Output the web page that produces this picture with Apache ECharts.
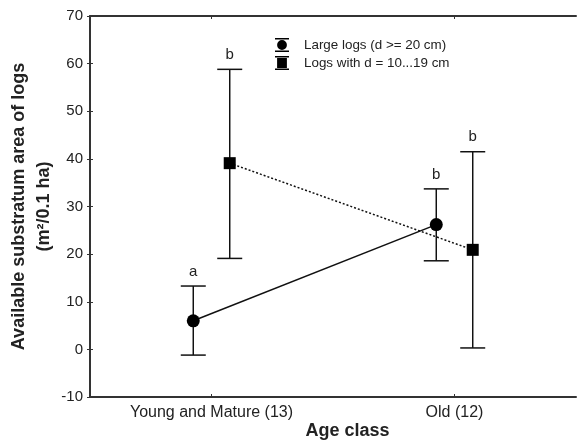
<!DOCTYPE html>
<html><head><meta charset="utf-8">
<script src="https://cdn.jsdelivr.net/npm/echarts@6/dist/echarts.min.js"></script>
<style>html,body{margin:0;padding:0;background:#fff}#c{width:577px;height:441px}</style>
</head><body><div id="c"></div>
<script>
const categories = ['Young and Mature (13)', 'Old (12)'];
const seriesNames = ['Large logs (d >= 20 cm)', 'Logs with d = 10...19 cm'];
const largeMean = [6.0, 26.2];
const largeLow = [-1.2, 18.6];
const largeHigh = [13.3, 33.7];
const largeLetters = ['a', 'b'];
const smallMean = [39.1, 20.9];
const smallLow = [19.1, 0.3];
const smallHigh = [58.8, 41.5];
const smallLetters = ['b', 'b'];
const yTicks = [-10, 0, 10, 20, 30, 40, 50, 60, 70];

const FONT = 'Liberation Sans, Arial, sans-serif';
const dodge = 0.075;
function xPos(i, s) { return i + 0.5 + (s === 0 ? -dodge : dodge); }

const errData = [];
categories.forEach((c, i) => {
  errData.push([xPos(i, 0), largeLow[i], largeHigh[i], largeLetters[i]]);
  errData.push([xPos(i, 1), smallLow[i], smallHigh[i], smallLetters[i]]);
});

const circleIcon = 'path://M0,0H20V2H0Z M0,18H20V20H0Z M3,10A7,7 0 1,0 17,10A7,7 0 1,0 3,10Z';
const squareIcon = 'path://M0,0H20V2H0Z M0,18H20V20H0Z M3,3H17V17H3Z';

const chart = echarts.init(document.getElementById('c'));
chart.setOption({
  animation: false,
  textStyle: { fontFamily: FONT },
  grid: { left: 90, right: 1, top: 16, bottom: 44, containLabel: false, outerBoundsMode: 'none' },
  legend: {
    orient: 'vertical', left: 270, top: 33, itemWidth: 14, itemHeight: 14, itemGap: 4,
    textStyle: { fontFamily: FONT, fontSize: 13.4, color: '#222', padding: [0, 0, 0, 10] },
    data: [
      { name: seriesNames[0], icon: circleIcon },
      { name: seriesNames[1], icon: squareIcon }
    ]
  },
  xAxis: [
    { type: 'value', min: 0, max: 2, show: false },
    { type: 'category', data: categories, position: 'bottom', boundaryGap: true,
      axisLine: { onZero: false, lineStyle: { color: '#333', width: 2 } },
      axisTick: { show: true, inside: true, alignWithLabel: true, length: 3, lineStyle: { color: '#333' } },
      axisLabel: { fontSize: 16, color: '#222', margin: 8, fontFamily: FONT },
      name: 'Age class', nameLocation: 'middle', nameGap: 25, nameMoveOverlap: false,
      nameTextStyle: { fontSize: 18, fontWeight: 'bold', color: '#222', fontFamily: FONT, padding: [0, 0, 0, 29] } },
    { type: 'category', data: categories, position: 'top', boundaryGap: true,
      axisLine: { onZero: false, lineStyle: { color: '#333', width: 2 } },
      axisTick: { show: true, inside: true, alignWithLabel: true, length: 3, lineStyle: { color: '#333' } },
      axisLabel: { show: false } }
  ],
  yAxis: [
    { type: 'value', min: -10, max: 70, interval: 10,
      axisLine: { show: true, onZero: false, lineStyle: { color: '#333', width: 2 } },
      axisTick: { show: true, inside: true, length: 3, lineStyle: { color: '#333' } },
      axisLabel: { fontSize: 15, color: '#222', margin: 7, fontFamily: FONT,
        formatter: v => yTicks.includes(v) ? String(v) : '' },
      splitLine: { show: false },
      name: 'Available substratum area of logs\n(m²/0.1 ha)', nameLocation: 'middle', nameGap: 33, nameMoveOverlap: false,
      nameTextStyle: { fontSize: 18, fontWeight: 'bold', color: '#222', fontFamily: FONT, lineHeight: 25 } },
    { type: 'value', min: -10, max: 70, interval: 10, position: 'right',
      axisLine: { show: false },
      axisTick: { show: true, inside: true, length: 3, lineStyle: { color: '#333' } },
      axisLabel: { show: false }, splitLine: { show: false } }
  ],
  series: [
    {
      type: 'custom', name: 'err', xAxisIndex: 0, yAxisIndex: 0, z: 1,
      data: errData,
      renderItem: function (params, api) {
        const x = api.value(0);
        const lo = api.coord([x, api.value(1)]);
        const hi = api.coord([x, api.value(2)]);
        const hw = 12.5;
        const st = { stroke: '#111', lineWidth: 1.5 };
        return { type: 'group', children: [
          { type: 'line', shape: { x1: lo[0], y1: lo[1], x2: hi[0], y2: hi[1] }, style: st },
          { type: 'line', shape: { x1: lo[0] - hw, y1: lo[1], x2: lo[0] + hw, y2: lo[1] }, style: st },
          { type: 'line', shape: { x1: hi[0] - hw, y1: hi[1], x2: hi[0] + hw, y2: hi[1] }, style: st },
          { type: 'text', style: { x: hi[0], y: hi[1] - 7, text: api.value(3), fill: '#222',
            font: '15px ' + FONT, textAlign: 'center', textVerticalAlign: 'bottom' } }
        ]};
      }
    },
    {
      type: 'line', name: seriesNames[0], xAxisIndex: 0, yAxisIndex: 0, z: 3,
      data: largeMean.map((v, i) => [xPos(i, 0), v]),
      symbol: 'circle', symbolSize: 13, itemStyle: { color: '#000' },
      lineStyle: { color: '#111', width: 1.5, type: 'solid' }
    },
    {
      type: 'line', name: seriesNames[1], xAxisIndex: 0, yAxisIndex: 0, z: 3,
      data: smallMean.map((v, i) => [xPos(i, 1), v]),
      symbol: 'rect', symbolSize: 12, itemStyle: { color: '#000' },
      lineStyle: { color: '#111', width: 1.5, type: [2, 2] }
    }
  ]
});
</script></body></html>
